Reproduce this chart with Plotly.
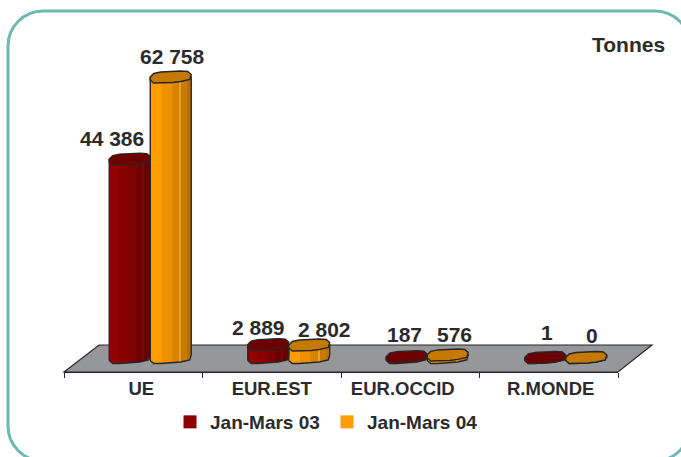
import plotly.graph_objects as go

categories = ["UE", "EUR.EST", "EUR.OCCID", "R.MONDE"]
series_names = ["Jan-Mars 03", "Jan-Mars 04"]
values_03 = [44386, 2889, 187, 1]
values_04 = [62758, 2802, 576, 0]
unit_label = "Tonnes"

W, H = 681, 457
PLOT_L, PLOT_R, PLOT_T, PLOT_B = 64, 618, 0, 372
ZERO_PX = 357.5
PX_PER_UNIT = 0.00447
CAT_PX = (PLOT_R - PLOT_L) / 4
TXT = "#2b2b2b"
FONT = "Liberation Sans, Arial, sans-serif"

y_low = -(PLOT_B - ZERO_PX) / PX_PER_UNIT
y_high = (ZERO_PX - PLOT_T) / PX_PER_UNIT


def px_x(dx):
    return dx / CAT_PX


def px_y(dy):
    return -dy / PX_PER_UNIT


def fmt(v):
    return f"{v:,}".replace(",", " ")


def paper_x(x):
    return (x - PLOT_L) / (PLOT_R - PLOT_L)


def paper_y(y):
    return (PLOT_B - y) / (PLOT_B - PLOT_T)


# outline of the column section, in screen pixels round its centre
CAP = [(-20.5, 0), (-17, -3.5), (-10, -5), (0, -5.5), (10, -6), (17, -5.5), (20.5, -2.5), (19, 2.5),
       (10, 4.5), (2, 5.5), (-10, 6), (-17, 6), (-20.5, 3), (-20.5, 0)]
FRONT = [(-20.5, 3), (-17, 6), (-10, 6), (2, 5.5), (10, 4.5), (19, 2.5), (20.5, -2.5)]


def front_at(dx):
    for (a, b), (c, d) in zip(FRONT, FRONT[1:]):
        if a <= dx <= c:
            return b + (d - b) * (dx - a) / (c - a)
    return 0


RED = ["#940000"] * 5 + ["#880000"] * 5 + ["#7c0000"] * 4 + ["#6e0000"] * 3 + ["#7a0606"] + ["#650000"] * 3
ORANGE = ["#ff9c00"] * 6 + ["#ef9000"] * 5 + ["#dd8400"] * 1 + ["#d98200"] * 3 + ["#e9a030"] + ["#c97a00"] * 3 + ["#b87000"] * 2
SERIES = [
    dict(name=series_names[0], values=values_03, off=-3.5, strips=RED, cap="#6c0000", swatch="#8b0000"),
    dict(name=series_names[1], values=values_04, off=37.5, strips=ORANGE, cap="#c47a00", swatch="#ff9c00"),
]

fig = go.Figure()
for s in SERIES:
    n = len(s["strips"])
    sw = 41 / n
    xs, ys, bases, colors = [], [], [], []
    for i, v in enumerate(s["values"]):
        c = i + px_x(s["off"])
        for j, col in enumerate(s["strips"]):
            dx = -20.5 + sw * (j + 0.5)
            b = px_y(front_at(dx))
            xs.append(c + px_x(dx))
            bases.append(b)
            ys.append(v - b)
            colors.append(col)
    fig.add_trace(go.Bar(x=xs, y=ys, base=bases, width=px_x(sw * 1.06), marker=dict(color=colors, line_width=0),
                         showlegend=False, hoverinfo="skip"))

for s in SERIES:
    for i, v in enumerate(s["values"]):
        c = i + px_x(s["off"])
        body_x = [c + px_x(a) for a, _ in FRONT] + [c + px_x(20.5), c + px_x(-20.5), c + px_x(-20.5)]
        body_y = [px_y(b) for _, b in FRONT] + [v, v, px_y(FRONT[0][1])]
        fig.add_trace(go.Scatter(x=body_x, y=body_y, mode="lines", line=dict(color="#2a2526", width=1.4),
                                 showlegend=False, hoverinfo="skip"))
        fig.add_trace(go.Scatter(x=[c + px_x(a) for a, _ in CAP], y=[v + px_y(b) for _, b in CAP], mode="lines",
                                 fill="toself", fillcolor=s["cap"], line=dict(color="#2a2526", width=1.4),
                                 showlegend=False, hoverinfo="skip"))

for s in SERIES:
    fig.add_trace(go.Scatter(x=[None], y=[None], mode="markers", name=s["name"],
                             marker=dict(symbol="square", size=13, color=s["swatch"])))

# label offsets from the column top, in pixels
LABEL_SHIFT_03 = [(-18.0, 21), (-10.0, 17), (-2.0, 22), (2.0, 25)]
LABEL_SHIFT_04 = [(2.0, 20.5), (15.5, 15), (7.0, 20), (6.0, 22)]
annos = []
for s, shifts in zip(SERIES, [LABEL_SHIFT_03, LABEL_SHIFT_04]):
    for i, v in enumerate(s["values"]):
        annos.append(dict(x=i + px_x(s["off"]), y=v, xref="x", yref="y", text=f"<b>{fmt(v)}</b>", showarrow=False,
                          xshift=shifts[i][0], yshift=shifts[i][1],
                          font=dict(family=FONT, size=21, color=TXT)))
annos.append(dict(x=paper_x(628), y=paper_y(44), xref="paper", yref="paper", text=f"<b>{unit_label}</b>",
                  showarrow=False, xanchor="center", yanchor="middle",
                  font=dict(family=FONT, size=21, color=TXT)))

floor = [(64, 372), (99, 345), (652, 345), (618, 372)]
floor_path = "M " + " L ".join(f"{paper_x(x)} {paper_y(y)}" for x, y in floor) + " Z"


def frame_path():
    L, T, R, B, r = 8, 11, 690, 461, 35
    k = 0.45 * r
    pts = [
        f"M {paper_x(L + r)} {paper_y(T)}", f"L {paper_x(R - r)} {paper_y(T)}",
        f"C {paper_x(R - k)} {paper_y(T)} {paper_x(R)} {paper_y(T + k)} {paper_x(R)} {paper_y(T + r)}",
        f"L {paper_x(R)} {paper_y(B - r)}",
        f"C {paper_x(R)} {paper_y(B - k)} {paper_x(R - k)} {paper_y(B)} {paper_x(R - r)} {paper_y(B)}",
        f"L {paper_x(L + r)} {paper_y(B)}",
        f"C {paper_x(L + k)} {paper_y(B)} {paper_x(L)} {paper_y(B - k)} {paper_x(L)} {paper_y(B - r)}",
        f"L {paper_x(L)} {paper_y(T + r)}",
        f"C {paper_x(L)} {paper_y(T + k)} {paper_x(L + k)} {paper_y(T)} {paper_x(L + r)} {paper_y(T)} Z",
    ]
    return " ".join(pts)


fig.update_layout(
    width=W, height=H, autosize=False,
    margin=dict(l=PLOT_L, r=W - PLOT_R, t=PLOT_T, b=H - PLOT_B, pad=0),
    paper_bgcolor="white", plot_bgcolor="rgba(0,0,0,0)",
    barmode="overlay", bargap=0,
    xaxis=dict(range=[-0.5, 3.5], tickmode="array", tickvals=[0.058, 1, 1.946, 3.014],
               ticktext=[f"<b>{c}</b>" for c in categories],
               ticks="", showgrid=False, zeroline=False, showline=True, linecolor="#2a2526", linewidth=1.2,
               tickfont=dict(family=FONT, size=18.5, color=TXT),
               minor=dict(tickmode="array", tickvals=[-0.5, 0.5, 1.5, 2.5, 3.5], ticks="outside", ticklen=5,
                          tickcolor="#2a2526", tickwidth=1, showgrid=False)),
    yaxis=dict(range=[y_low, y_high], visible=False),
    showlegend=True,
    legend=dict(orientation="h", x=paper_x(170), y=paper_y(403), xanchor="left", yanchor="top",
                bgcolor="rgba(0,0,0,0)", font=dict(family=FONT, size=19, color=TXT, weight="bold"),
                entrywidth=112, entrywidthmode="pixels", itemclick=False, itemdoubleclick=False),
    annotations=annos,
    shapes=[
        dict(type="path", xref="paper", yref="paper", path=floor_path, fillcolor="#96979b",
             line=dict(color="#2a2526", width=1.2), layer="below"),
        dict(type="path", xref="paper", yref="paper", path=frame_path(), fillcolor="rgba(0,0,0,0)",
             line=dict(color="#6fb7b3", width=3), layer="below"),
    ],
    font=dict(family=FONT),
)

fig.write_html("out.html", config={"displayModeBar": False},
               post_script="document.body.style.margin='0';document.body.style.overflow='hidden';")
